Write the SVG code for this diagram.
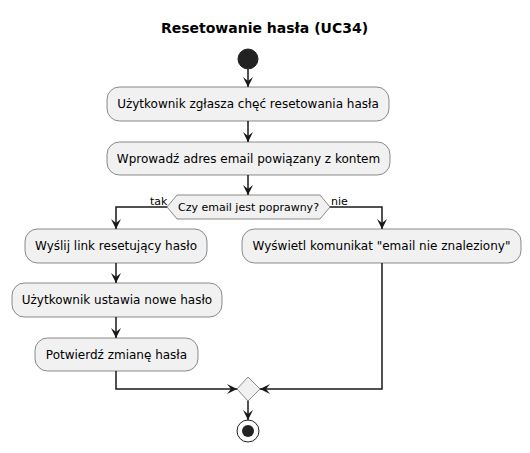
<svg xmlns="http://www.w3.org/2000/svg" width="530" height="453" viewBox="0 0 530 453">
<defs>
<style>
.bg{fill:#FFFFFF}
.act{fill:#F1F1F1;stroke:#181818;stroke-width:0.5}
.t{font-family:"DejaVu Sans",sans-serif;font-size:12px;fill:#000000;text-anchor:middle}
.s{font-family:"DejaVu Sans",sans-serif;font-size:11px;fill:#000000}
.title{font-family:"DejaVu Sans",sans-serif;font-size:14px;font-weight:bold;fill:#000000;text-anchor:middle}
.ln{fill:none;stroke:#181818;stroke-width:1.5}
</style>
<marker id="arr" viewBox="0 0 10 10" refX="10" refY="5" markerWidth="10" markerHeight="10" markerUnits="userSpaceOnUse" orient="auto">
<path d="M0,0 L10,5 L0,10 L4,5 Z" fill="#181818"/>
</marker>
</defs>
<rect class="bg" x="0" y="0" width="530" height="453"/>
<text class="title" x="264.5" y="33">Resetowanie hasła (UC34)</text>

<g id="connectors">
<path class="ln" d="M248,69 L248,87" marker-end="url(#arr)"/>
<path class="ln" d="M248,121 L248,142" marker-end="url(#arr)"/>
<path class="ln" d="M248,175 L248,195" marker-end="url(#arr)"/>
<path class="ln" d="M167,207 L116,207 L116,229" marker-end="url(#arr)"/>
<path class="ln" d="M330,207 L382,207 L382,229" marker-end="url(#arr)"/>
<path class="ln" d="M116,263 L116,283" marker-end="url(#arr)"/>
<path class="ln" d="M116,317 L116,338" marker-end="url(#arr)"/>
<path class="ln" d="M116,371 L116,389 L237,389" marker-end="url(#arr)"/>
<path class="ln" d="M382,263 L382,389 L260,389" marker-end="url(#arr)"/>
<path class="ln" d="M248,401 L248,420" marker-end="url(#arr)"/>
<text class="s" x="150" y="205">tak</text>
<text class="s" x="331" y="205">nie</text>
</g>

<g id="start">
<circle cx="248" cy="59" r="10" fill="#222222" stroke="#222222" stroke-width="1"/>
</g>

<g id="a1">
<rect class="act" x="107" y="87" width="282" height="34" rx="12.5" ry="12.5"/>
<text class="t" x="248" y="108">Użytkownik zgłasza chęć resetowania hasła</text>
</g>

<g id="a2">
<rect class="act" x="107" y="142" width="283" height="33" rx="12.5" ry="12.5"/>
<text class="t" x="248.5" y="163">Wprowadź adres email powiązany z kontem</text>
</g>

<g id="decision">
<polygon class="act" points="167,207 177,195 320,195 330,207 320,219 177,219"/>
<text class="s" x="248.5" y="211" text-anchor="middle">Czy email jest poprawny?</text>
</g>

<g id="a3">
<rect class="act" x="25" y="229" width="182" height="34" rx="12.5" ry="12.5"/>
<text class="t" x="116" y="250">Wyślij link resetujący hasło</text>
</g>

<g id="a4">
<rect class="act" x="242" y="229" width="279" height="34" rx="12.5" ry="12.5"/>
<text class="t" x="381.5" y="250">Wyświetl komunikat "email nie znaleziony"</text>
</g>

<g id="a5">
<rect class="act" x="12" y="283" width="210" height="34" rx="12.5" ry="12.5"/>
<text class="t" x="117" y="304">Użytkownik ustawia nowe hasło</text>
</g>

<g id="a6">
<rect class="act" x="35" y="338" width="163" height="33" rx="12.5" ry="12.5"/>
<text class="t" x="116.5" y="359">Potwierdź zmianę hasła</text>
</g>

<g id="merge">
<polygon class="act" points="237,389 248,377 260,389 248,401"/>
</g>

<g id="end">
<circle cx="248" cy="431" r="11" fill="none" stroke="#222222" stroke-width="1"/>
<circle cx="248" cy="431" r="6" fill="#222222"/>
</g>
</svg>
